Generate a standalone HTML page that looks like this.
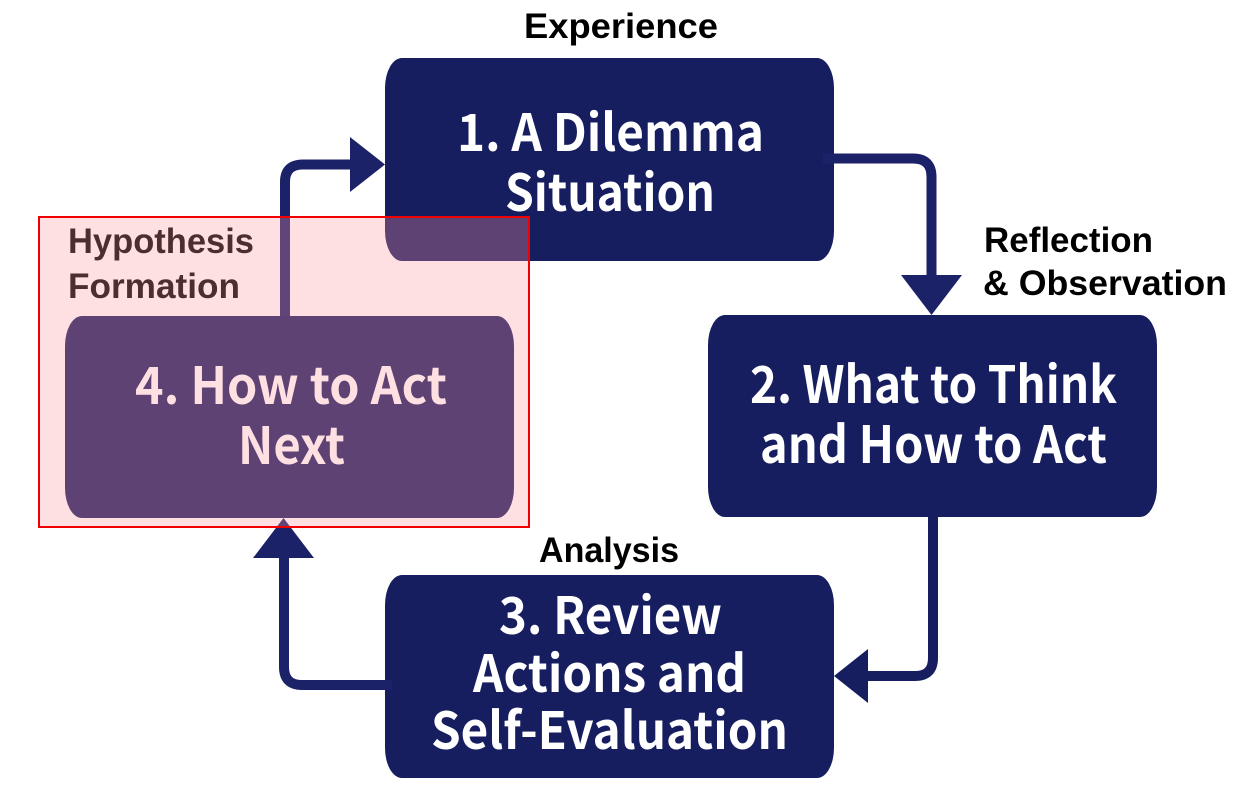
<!DOCTYPE html>
<html lang="en">
<head>
<meta charset="utf-8">
<title>Experiential learning cycle</title>
<style>
html,body{margin:0;padding:0;background:#fff;width:1260px;height:805px;overflow:hidden}
svg{display:block}
.m{font-family:"Noto Sans CJK JP","Liberation Sans",sans-serif;font-weight:700;font-size:51px;fill:#fff}
.l{font-family:"Liberation Sans",sans-serif;font-weight:700;font-size:35px;fill:#000}
.a{fill:none;stroke:#1c2267;stroke-width:10}
.h{fill:#1c2267}
.b{fill:#171e60}
</style>
</head>
<body>
<svg width="1260" height="805" viewBox="0 0 1260 805" xmlns="http://www.w3.org/2000/svg">
<rect width="1260" height="805" fill="#fff"/>

<!-- boxes -->
<rect class="b" x="385" y="58" width="449" height="203" rx="17" ry="30"/>
<rect class="b" x="708" y="315" width="449" height="202" rx="17" ry="30"/>
<rect class="b" x="385" y="575" width="449" height="203" rx="17" ry="30"/>
<rect class="b" x="65" y="316" width="449" height="202" rx="17" ry="30"/>

<!-- connectors -->
<path class="a" d="M285 316V182Q285 164.500 303 164.500H352"/>
<polygon class="h" points="350,137 385,164.500 350,192"/>
<path class="a" d="M823 158.500H913Q931.500 158.500 931.500 177V277"/>
<polygon class="h" points="901,275 962,275 931.500,315"/>
<path class="a" d="M933 517V658Q933 676 915 676H866" style="stroke:#171e60"/>
<polygon class="b" points="868,649 868,703 834,676"/>
<path class="a" d="M392 685H302Q284 685 284 667V556"/>
<polygon class="h" points="253,558 314,558 283.500,518"/>

<!-- box text -->
<text class="m" x="457" y="151" textLength="307" lengthAdjust="spacingAndGlyphs">1. A Dilemma</text>
<text class="m" x="505" y="211" textLength="210" lengthAdjust="spacingAndGlyphs">Situation</text>
<text class="m" x="750" y="403" textLength="367" lengthAdjust="spacingAndGlyphs">2. What to Think</text>
<text class="m" x="760" y="463" textLength="347" lengthAdjust="spacingAndGlyphs">and How to Act</text>
<text class="m" x="499" y="634" textLength="223" lengthAdjust="spacingAndGlyphs">3. Review</text>
<text class="m" x="473" y="692" textLength="273" lengthAdjust="spacingAndGlyphs">Actions and</text>
<text class="m" x="431" y="749" textLength="357" lengthAdjust="spacingAndGlyphs">Self-Evaluation</text>
<text class="m" x="135" y="404" textLength="312" lengthAdjust="spacingAndGlyphs">4. How to Act</text>
<text class="m" x="238" y="464" textLength="107" lengthAdjust="spacingAndGlyphs">Next</text>

<!-- labels -->
<text class="l" x="524" y="38" textLength="194" lengthAdjust="spacingAndGlyphs">Experience</text>
<text class="l" x="984" y="252" textLength="169" lengthAdjust="spacingAndGlyphs">Reflection</text>
<text class="l" x="983" y="295" textLength="244" lengthAdjust="spacingAndGlyphs">&amp; Observation</text>
<text class="l" x="539" y="562" textLength="140" lengthAdjust="spacingAndGlyphs">Analysis</text>
<text class="l" x="68" y="253" textLength="186" lengthAdjust="spacingAndGlyphs">Hypothesis</text>
<text class="l" x="68" y="298" textLength="172" lengthAdjust="spacingAndGlyphs">Formation</text>

<!-- highlight overlay -->
<rect x="39" y="217" width="490" height="310" fill="#ff98a0" fill-opacity="0.3" stroke="#f00000" stroke-width="2"/>
</svg>
</body>
</html>
